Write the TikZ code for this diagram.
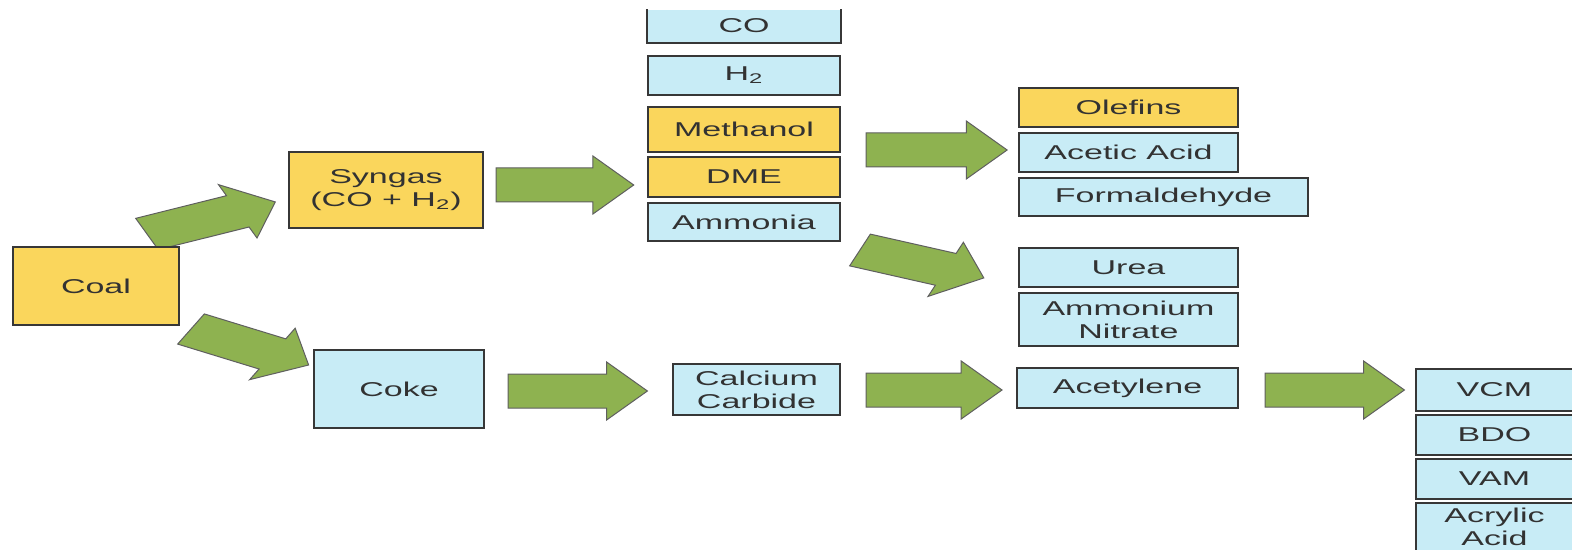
\documentclass[tikz,border=0pt]{standalone}
\usepackage{fontspec}
\setmainfont{Liberation Sans}[FakeStretch=1.7]
\usetikzlibrary{calc}
\definecolor{ycol}{RGB}{250,214,92}
\definecolor{bcol}{RGB}{200,236,246}
\definecolor{gcol}{RGB}{142,178,80}
\definecolor{edgecol}{RGB}{55,55,55}
\definecolor{txtcol}{RGB}{50,50,50}
\tikzset{
  basebox/.style={rectangle, inner sep=0pt, text=txtcol, align=center,
    font=\fontsize{10}{11.5}\selectfont, line width=0.8pt, draw=edgecol},
  ynode/.style={basebox, fill=ycol},
  bnode/.style={basebox, fill=bcol},
  openbox/.style={basebox, fill=bcol, draw=none},
  border/.style={line width=0.8pt, draw=edgecol},
  garrow/.style={fill=gcol, draw=edgecol!80, line width=0.5pt, line join=miter}
}
\newcommand{\blockarrow}[4]{%
  \begin{scope}[shift={#2}, xscale=1.7, rotate=#3]
    \filldraw[garrow] (0,-17) -- ({#4-24},-17) -- ({#4-24},-29) -- (#4,0)
      -- ({#4-24},29) -- ({#4-24},17) -- (0,17) -- cycle;
    \coordinate (#1-tail) at (0,0);
    \coordinate (#1-tip) at (#4,0);
  \end{scope}}
\begin{document}
\begin{tikzpicture}[x=0.5pt, y=-0.5pt]
\useasboundingbox (0,0) rectangle (1572,550);
\fill[white] (0,0) rectangle (1572,550);

% block arrows
\blockarrow{a1}{(496,185)}{0}{81}
\blockarrow{a2}{(508,391)}{0}{82}
\blockarrow{a3}{(866,150)}{0}{83}
\blockarrow{a4}{(866,390)}{0}{80}
\blockarrow{a5}{(1265,390)}{0}{82}
\blockarrow{d1}{(147,234)}{23}{82}
\blockarrow{d2}{(191,329)}{-27.5}{78}
\blockarrow{d3}{(860,250)}{-21}{78}

% boxes
\node[ynode, minimum width=83pt, minimum height=39pt] (coal) at (96,286) {Coal};
\node[ynode, minimum width=97pt, minimum height=38pt] (syngas) at (386,190) {Syngas\\(CO + H\textsubscript{2})};
\node[bnode, minimum width=85pt, minimum height=39pt] (coke) at (399,389) {Coke};

\node[openbox, minimum width=96pt, minimum height=16pt] (co) at (744,26) {CO};
\draw[border] (co.north west) -- (co.south west) -- (co.south east) -- (co.north east);
\node[bnode, minimum width=96pt, minimum height=19.5pt] (h2) at (744,75.5) {H\textsubscript{2}};
\node[ynode, minimum width=96pt, minimum height=22.5pt] (methanol) at (744,129.5) {Methanol};
\node[ynode, minimum width=96pt, minimum height=20pt] (dme) at (744,177) {DME};
\node[bnode, minimum width=96pt, minimum height=19pt] (ammonia) at (744,222) {Ammonia};

\node[ynode, minimum width=109.5pt, minimum height=19.5pt] (olefins) at (1128.5,107.5) {Olefins};
\node[bnode, minimum width=109.5pt, minimum height=19.5pt] (acetic) at (1128.5,152.5) {Acetic Acid};
\node[bnode, minimum width=144.5pt, minimum height=19pt] (formal) at (1163.5,197) {Formaldehyde};
\node[bnode, minimum width=109.5pt, minimum height=19.5pt] (urea) at (1128.5,267.5) {Urea};
\node[bnode, minimum width=109.5pt, minimum height=26.5pt] (ammnit) at (1128.5,319.5) {Ammonium\\Nitrate};

\node[bnode, minimum width=83.5pt, minimum height=25.5pt] (cac2) at (756.5,389.5) {Calcium\\Carbide};
\node[bnode, minimum width=110.5pt, minimum height=20pt] (acetylene) at (1127.5,388) {Acetylene};

\node[openbox, minimum width=77.5pt, minimum height=20pt] (vcm) at (1494.5,390) {VCM};
\draw[border] (vcm.north east) -- (vcm.north west) -- (vcm.south west) -- (vcm.south east);
\node[openbox, minimum width=77.5pt, minimum height=19pt] (bdo) at (1494.5,435) {BDO};
\draw[border] (bdo.north east) -- (bdo.north west) -- (bdo.south west) -- (bdo.south east);
\node[openbox, minimum width=77.5pt, minimum height=19pt] (vam) at (1494.5,479) {VAM};
\draw[border] (vam.north east) -- (vam.north west) -- (vam.south west) -- (vam.south east);
\node[openbox, minimum width=77.5pt, minimum height=23pt] (acrylic) at (1494.5,527) {Acrylic\\Acid};
\draw[border] (acrylic.north east) -- (acrylic.north west) -- (acrylic.south west);
\end{tikzpicture}
\end{document}
